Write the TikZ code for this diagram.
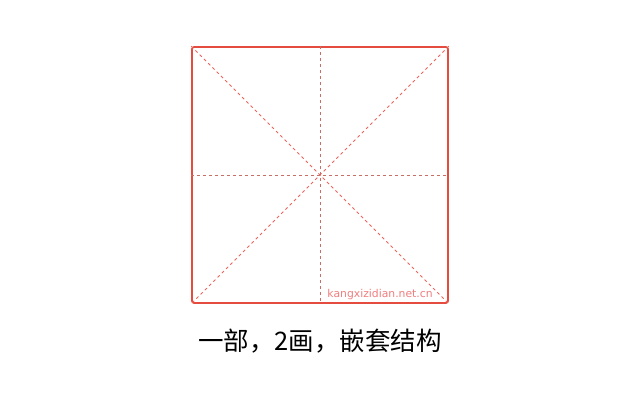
\documentclass[tikz,border=0pt]{standalone}
\usepackage{fontspec}
\newfontfamily\cjk{Noto Sans CJK SC}
\newfontfamily\marksans{DejaVu Sans}
\definecolor{gridred}{RGB}{228,76,64}
\definecolor{guidered}{RGB}{236,100,90}
\definecolor{centrered}{RGB}{200,110,100}
\definecolor{markpink}{RGB}{240,125,125}
\tikzset{
    guide/.style={guidered, dashed, dash pattern=on 3pt off 3pt, line width=0.8pt}
}

\begin{document}
\begin{tikzpicture}[x=1pt,y=1pt]
    \useasboundingbox (0,0) rectangle (640,400);
    % Draw the writing grid
    \node[draw=gridred, line width=1.6pt, rounded corners=2pt, minimum size=256pt, inner sep=0pt] (box) at (320,225) {};
    % Draw the diagonals
    \draw[guide] (box.north west) -- (box.south east);
    \draw[guide] (box.north east) -- (box.south west);
    % Draw the centre lines
    \draw[guide, draw=centrered] (box.north) -- (box.south);
    \draw[guide, draw=centrered] (box.west) -- (box.east);
    % Watermark
    \node[markpink, font=\marksans\fontsize{10.8}{12}\selectfont, anchor=south east, inner sep=0pt] (mark) at ([xshift=-16pt,yshift=4pt]box.south east) {kangxizidian.net.cn};
    % Caption
    \node[font=\cjk\fontsize{25.5}{28}\selectfont] (caption) at (320,59) {一部，2画，嵌套结构};
\end{tikzpicture}
\end{document}
